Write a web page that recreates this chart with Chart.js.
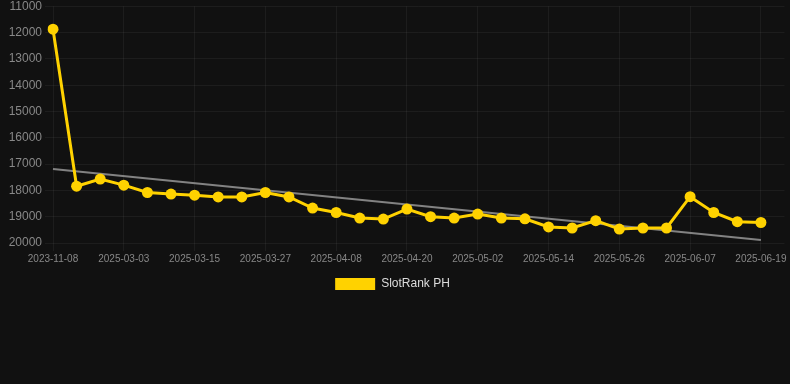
<!DOCTYPE html>
<html>
<head>
<meta charset="utf-8">
<script src="https://cdn.jsdelivr.net/npm/chart.js@4"></script>
<style>
  html, body { margin: 0; padding: 0; background: #111111; }
  #wrap { position: relative; width: 790px; height: 300px; }
</style>
</head>
<body>
<div id="wrap"><canvas id="c"></canvas></div>
<script>
const dates = [
  '2023-11-08','2025-02-23','2025-02-27','2025-03-03','2025-03-07','2025-03-11',
  '2025-03-15','2025-03-19','2025-03-23','2025-03-27','2025-03-31','2025-04-04',
  '2025-04-08','2025-04-12','2025-04-16','2025-04-20','2025-04-24','2025-04-28',
  '2025-05-02','2025-05-06','2025-05-10','2025-05-14','2025-05-18','2025-05-22',
  '2025-05-26','2025-05-30','2025-06-03','2025-06-07','2025-06-11','2025-06-15',
  '2025-06-19','2025-06-23'
];
const rankValues = [
  11870, 17840, 17570, 17800, 18080, 18140, 18180, 18250, 18250, 18080,
  18250, 18670, 18840, 19050, 19090, 18710, 19000, 19050, 18900, 19050,
  19080, 19390, 19430, 19150, 19470, 19430, 19430, 18240, 18840, 19190,
  19220
];
const trendValues = [
  17190, null, null, null, null, null, null, null, null, null,
  null, null, null, null, null, null, null, null, null, null,
  null, null, null, null, null, null, null, null, null, null,
  19890
];
const yTicks = { min: 11000, max: 20000, step: 1000 };
const seriesName = 'SlotRank PH';

new Chart(document.getElementById('c'), {
  type: 'line',
  data: {
    labels: dates,
    datasets: [
      {
        label: seriesName,
        data: rankValues,
        borderColor: '#FFD200',
        backgroundColor: '#FFD200',
        borderWidth: 3,
        pointRadius: 5.5,
        pointHoverRadius: 5.5,
        pointBackgroundColor: '#FFD200',
        pointBorderWidth: 0,
        tension: 0,
        order: 1
      },
      {
        label: 'trend',
        data: trendValues,
        borderColor: 'rgba(150,150,150,0.85)',
        borderWidth: 2,
        pointRadius: 0,
        spanGaps: true,
        tension: 0,
        order: 2
      }
    ]
  },
  options: {
    responsive: true,
    maintainAspectRatio: false,
    animation: false,
    layout: { padding: { left: 0, right: 5, top: 0, bottom: 0 } },
    plugins: {
      legend: {
        position: 'bottom',
        labels: {
          color: '#dddddd',
          font: { size: 12, family: 'Liberation Sans, Arial, sans-serif' },
          boxWidth: 40,
          boxHeight: 12,
          generateLabels: (chart) => [{
            text: seriesName,
            fillStyle: '#FFD200',
            strokeStyle: '#FFD200',
            lineWidth: 0,
            fontColor: '#dddddd',
            datasetIndex: 0,
            hidden: false
          }]
        }
      },
      tooltip: { enabled: false }
    },
    scales: {
      x: {
        grid: { color: 'rgba(255,255,255,0.05)', tickLength: 8 },
        border: { display: false },
        ticks: {
          color: '#888888',
          padding: 2,
          font: { size: 10, family: 'Liberation Sans, Arial, sans-serif', lineHeight: 1.3 },
          maxRotation: 0,
          autoSkip: false,
          callback: function(v, i) { return (i % 3 === 0 && i < 31) ? dates[i] : null; }
        }
      },
      y: {
        reverse: true,
        min: yTicks.min,
        max: yTicks.max,
        afterFit: (scale) => { scale.width = 53; },
        grid: { color: 'rgba(255,255,255,0.05)', tickLength: 8 },
        border: { display: false },
        ticks: {
          stepSize: yTicks.step,
          color: '#888888',
          padding: 3,
          font: { size: 12, family: 'Liberation Sans, Arial, sans-serif', lineHeight: 0.55 },
          callback: (v) => String(v)
        }
      }
    }
  }
});
</script>
</body>
</html>
